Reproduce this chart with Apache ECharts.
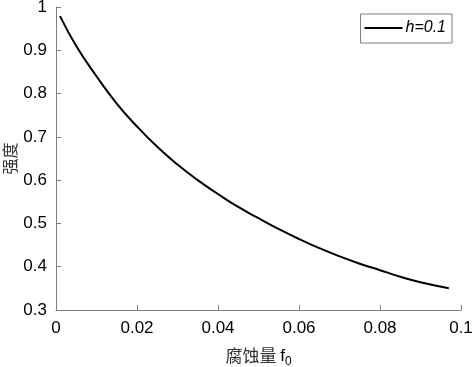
<!DOCTYPE html>
<html>
<head>
<meta charset="utf-8">
<script src="https://cdn.jsdelivr.net/npm/echarts@6/dist/echarts.min.js"></script>
<style>
  html, body { margin: 0; padding: 0; background: #fff; }
  #chart { width: 472px; height: 367px; }
</style>
</head>
<body>
<div id="chart"></div>
<script>
// corrosion amount f0 and strength
const corrosion = [0.001, 0.005, 0.01, 0.015, 0.02, 0.025, 0.03, 0.035, 0.04, 0.045,
  0.05, 0.055, 0.06, 0.065, 0.07, 0.075, 0.08, 0.085, 0.09, 0.097];
const strength = [0.979, 0.91, 0.84, 0.777, 0.724, 0.677, 0.636, 0.60, 0.568, 0.538,
  0.512, 0.487, 0.464, 0.443, 0.424, 0.407, 0.392, 0.377, 0.364, 0.350];
const seriesName = "h=0.1";

const chart = echarts.init(document.getElementById("chart"), undefined, { renderer: "canvas" });
const axisColor = "#808080";
const labelFont = { color: "#000", fontSize: 17, fontFamily: "Liberation Sans, Arial, sans-serif" };

chart.setOption({
  backgroundColor: "#fff",
  animation: false,
  grid: { left: 56, right: 11, top: 7, bottom: 57, outerBoundsMode: "none", containLabel: false },
  legend: {
    right: 20,
    top: 14,
    data: [{ name: seriesName, icon: "rect" }],
    itemWidth: 38,
    itemHeight: 2,
    itemGap: 4,
    padding: [6, 6, 7, 4],
    borderColor: axisColor,
    borderWidth: 1,
    borderRadius: 0,
    backgroundColor: "#fff",
    textStyle: { color: "#000", fontSize: 16, fontStyle: "italic", fontFamily: "Liberation Sans, Arial, sans-serif", padding: [0, 0, 0, -2] },
  },
  xAxis: {
    type: "value",
    min: 0,
    max: 0.1,
    interval: 0.02,
    name: "{n|腐蚀量 }{f|f}{s|0}",
    nameLocation: "middle",
    nameGap: 34,
    nameMoveOverlap: false,
    nameTextStyle: {
      rich: {
        n: { fontSize: 17, color: "#333", fontFamily: "Noto Sans CJK SC" },
        f: { fontSize: 17, color: "#000", fontFamily: "Liberation Sans, Arial, sans-serif" },
        s: { fontSize: 12, color: "#000", fontFamily: "Liberation Sans, Arial, sans-serif", padding: [12, 0, 0, 0] },
      },
    },
    axisLine: { lineStyle: { color: axisColor, width: 1 } },
    axisTick: { inside: true, length: 5, lineStyle: { color: axisColor } },
    axisLabel: { ...labelFont, margin: 10, formatter: (v) => String(+v.toFixed(2)) },
    splitLine: { show: false },
  },
  yAxis: {
    type: "value",
    min: 0.3,
    max: 1,
    interval: 0.1,
    name: "强度",
    nameLocation: "middle",
    nameGap: 38,
    nameMoveOverlap: false,
    nameRotate: 90,
    nameTextStyle: { fontSize: 16, color: "#333", fontFamily: "Noto Sans CJK SC" },
    axisLine: { lineStyle: { color: axisColor, width: 1 } },
    axisTick: { inside: true, length: 5, lineStyle: { color: axisColor } },
    axisLabel: { ...labelFont, margin: 9, formatter: (v) => String(+v.toFixed(2)) },
    splitLine: { show: false },
  },
  series: [
    {
      name: seriesName,
      type: "line",
      smooth: true,
      symbol: "none",
      lineStyle: { color: "#000", width: 2 },
      itemStyle: { color: "#000" },
      data: corrosion.map((x, i) => [x, strength[i]]),
    },
  ],
});
</script>
</body>
</html>
